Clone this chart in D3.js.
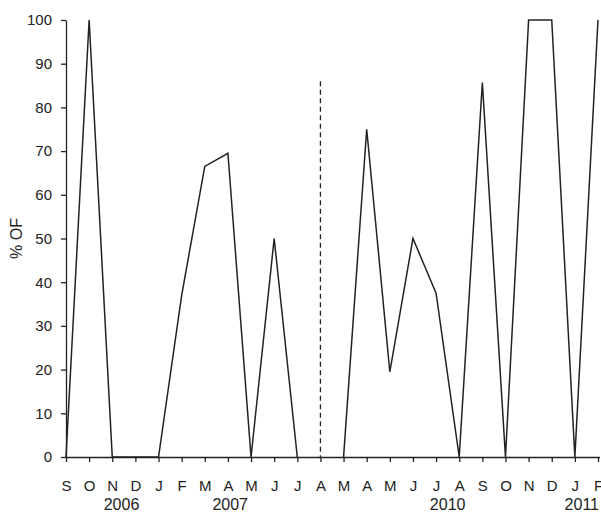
<!DOCTYPE html>
<html>
<head>
<meta charset="utf-8">
<script src="https://cdn.jsdelivr.net/npm/d3@7"></script>
<style>
  body { margin: 0; background: #fff; }
  svg { display: block; font-family: "Liberation Sans", Arial, sans-serif; }
  .axis path, .axis line { stroke: #222; stroke-width: 1.3; }
  .axis text { fill: #222; }
</style>
</head>
<body>
<svg width="601" height="513"></svg>
<script>
// month letters along the x axis (gap between 2007 and 2010 at the dashed line)
var months = ["S","O","N","D","J","F","M","A","M","J","J","A",
              "M","A","M","J","J","A","S","O","N","D","J","F"]
// % OF per month, null = break
var pctOF = [0,100,0,0,0,37,66.5,69.5,0,50,0,null,
             0,75,19.5,50,37.5,0,85.7,0,100,100,0,100]
var yTicks = [0,10,20,30,40,50,60,70,80,90,100]
// year labels and the month index they sit under
var years = ["2006","2007","2010","2011"]
var yearAt = [2.4, 7.1, 16.5, 22.3]
var breakIndex = 11
var breakTop = 86

var svg = d3.select('svg'),
    margin = {top: 20, right: 3, bottom: 56, left: 66},
    width = +svg.attr('width') - margin.left - margin.right,
    height = +svg.attr('height') - margin.top - margin.bottom,
    g = svg.append('g').attr('transform', 'translate(' + margin.left + ',' + margin.top + ')')

var x = d3.scaleLinear()
  .domain([0, months.length - 1])
  .range([0, 532])

var y = d3.scaleLinear()
  .domain([0, 100])
  .range([height, 0])

// y axis
var yAxis = g.append('g')
  .attr('class', 'axis')
  .call(d3.axisLeft(y).tickValues(yTicks).tickSize(5).tickPadding(9).tickSizeOuter(0))
yAxis.selectAll('text').style('font-size', '15px')

// x axis
var xAxis = g.append('g')
  .attr('class', 'axis')
  .attr('transform', 'translate(0,' + height + ')')
  .call(d3.axisBottom(x)
    .tickValues(d3.range(months.length))
    .tickFormat(function (i) { return months[i] })
    .tickSize(5).tickPadding(18).tickSizeOuter(0))
xAxis.select('.domain').attr('d', 'M0,0.5H' + (width + 2))
xAxis.selectAll('text').style('font-size', '15px')

// years
g.append('g')
  .selectAll('text')
  .data(years)
  .enter().append('text')
    .attr('x', function (d, i) { return x(yearAt[i]) })
    .attr('y', height + 53)
    .attr('text-anchor', 'middle')
    .style('font-size', '16px')
    .attr('fill', '#222')
    .text(function (d) { return d })

// y label
g.append('text')
  .attr('transform', 'translate(' + (-44) + ',' + y(50) + ') rotate(-90)')
  .attr('text-anchor', 'middle')
  .style('font-size', '16px')
  .attr('fill', '#222')
  .text('% OF')

// dashed break line
g.append('line')
  .attr('x1', x(breakIndex)).attr('x2', x(breakIndex))
  .attr('y1', y(breakTop)).attr('y2', y(0))
  .attr('stroke', '#222')
  .attr('stroke-width', 1.3)
  .attr('stroke-dasharray', '5,3.5')

// data line
var line = d3.line()
  .defined(function (d) { return d !== null })
  .x(function (d, i) { return x(i) })
  .y(function (d) { return y(d) })

g.append('path')
  .datum(pctOF)
  .attr('fill', 'none')
  .attr('stroke', '#222')
  .attr('stroke-width', 1.5)
  .attr('stroke-linejoin', 'miter')
  .attr('d', line)
</script>
</body>
</html>
